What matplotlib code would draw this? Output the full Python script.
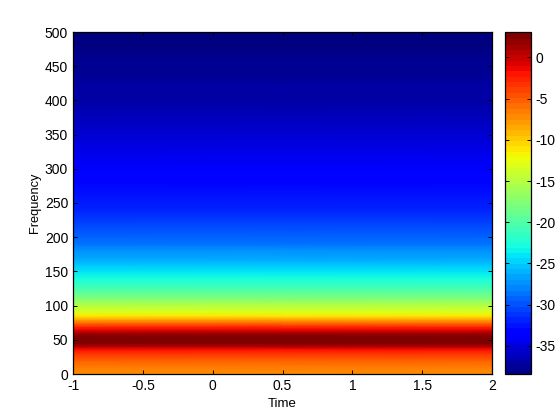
import numpy as np
import matplotlib
matplotlib.use("Agg")
import matplotlib.pyplot as plt

# Values
times = [-1, 2]
frequency = [0, 10, 20, 30, 35, 40, 45, 50, 55, 60, 65, 70, 75, 80, 85, 90, 100, 110, 120, 130, 140, 150, 160, 170,
             180, 190, 200, 220, 240, 260, 280, 300, 320, 340, 360, 380, 400, 420, 440, 460, 480, 500]
power_db = [-6.8, -6.2, -5.0, -3.0, -1.6, 0.6, 2.5, 3.07, 2.6, 1.2, -1.0, -3.2, -5.5, -8.3, -10.8, -12.8, -15.0, -17.5, -19.6,
            -21.5, -22.8, -24.0, -25.3, -26.3, -27.2, -28.1, -29.0, -30.3, -31.4, -32.4, -33.2, -33.8, -34.4, -35.0, -35.5,
            -36.0, -36.5, -36.9, -37.3, -37.7, -38.1, -38.4]
x_ticks = [-1, -0.5, 0, 0.5, 1, 1.5, 2]
x_tick_labels = ['-1', '-0.5', '0', '0.5', '1', '1.5', '2']
y_ticks = list(range(0, 501, 50))
cbar_ticks = [0, -5, -10, -15, -20, -25, -30, -35]
c_limits = (-38.4, 3.07)

plt.rcParams['font.family'] = ['Liberation Sans', 'DejaVu Sans']
fig = plt.figure(figsize=(5.6, 4.2), dpi=100, facecolor='white')
W, H = 560, 420
ax = fig.add_axes([73/W, 1-374/H, (492-73)/W, (374-32)/H])
cax = fig.add_axes([505/W, 1-374/H, (531-505)/W, (374-32)/H])

cmap = matplotlib.colormaps['jet'].resampled(64)
Z = np.column_stack([power_db, power_db])
mesh = ax.pcolormesh(times, frequency, Z, cmap=cmap, vmin=c_limits[0], vmax=c_limits[1],
                     shading='gouraud', rasterized=True)
ax.set_xlim(-1, 2)
ax.set_ylim(0, 500)
ax.set_xticks(x_ticks, x_tick_labels)
ax.set_yticks(y_ticks)
ax.set_xlabel('Time', fontsize=9.5, labelpad=3.5)
ax.set_ylabel('Frequency', fontsize=9.2, labelpad=3)

cb = fig.colorbar(mesh, cax=cax)
cb.set_ticks(cbar_ticks)
cb.set_ticklabels([str(t) for t in cbar_ticks])
cb.solids.set_edgecolor('face')

for a in (ax, cax):
    for s in a.spines.values():
        s.set_linewidth(0.9)
        s.set_color('black')
ax.tick_params(which='both', direction='in', top=True, right=True, length=3, width=0.7, labelsize=10, pad=3.5)
cax.tick_params(which='both', direction='in', left=True, right=True, length=3, width=0.7, labelsize=10, pad=3)
fig.savefig('out.png', dpi=100)
